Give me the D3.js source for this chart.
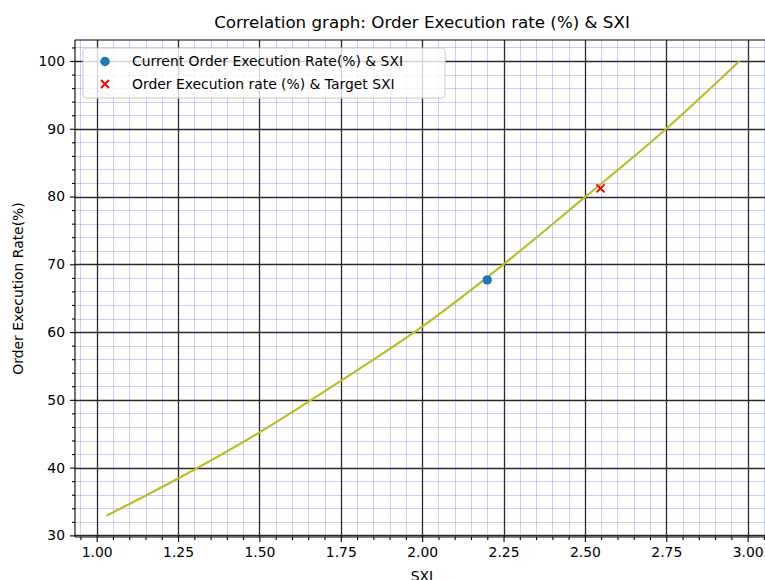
<!DOCTYPE html>
<html>
<head>
<meta charset="utf-8">
<script src="https://cdn.jsdelivr.net/npm/d3@7"></script>
<style>
  html, body { margin: 0; padding: 0; background: #fff; }
  svg { display: block; }
  text { font-family: "DejaVu Sans", sans-serif; fill: #000; }
</style>
</head>
<body>
<svg id="chart" width="765" height="580"></svg>
<script>
// ---- data ----
const sxi  = [1.03, 1.25, 1.50, 1.75, 2.00, 2.25, 2.50, 2.75, 2.975];
const rate = [32.9, 38.4, 45.2, 52.8, 60.8, 70.0, 79.9, 90.0, 100.0];
const currentPoint = { sxi: 2.20, rate: 67.7 };
const targetPoint  = { sxi: 2.548, rate: 81.2 };
const xTicks = [1.00, 1.25, 1.50, 1.75, 2.00, 2.25, 2.50, 2.75, 3.00];
const yTicks = [30, 40, 50, 60, 70, 80, 90, 100];
const xMinorTicks = d3.range(19, 62).map(i => i * 0.05).filter(v => Math.abs(v * 4 - Math.round(v * 4)) > 1e-6);
const yMinorTicks = d3.range(15, 52).map(i => i * 2).filter(v => v % 10 !== 0);
const title = "Correlation graph: Order Execution rate (%) & SXI";
const xLabel = "SXI";
const yLabel = "Order Execution Rate(%)";
const legendLabels = ["Current Order Execution Rate(%) & SXI", "Order Execution rate (%) & Target SXI"];

// ---- layout ----
const svg = d3.select("#chart");
const L = 75, T = 40, R = 769, B = 537;
const x = d3.scaleLinear().domain([0.9334, 3.0656]).range([L, R]);
const y = d3.scaleLinear().domain([29.76, 103.1]).range([B, T]);
const px = v => Math.round(v) + 0.5;   // crisp 1px grid lines

svg.append("defs").append("clipPath").attr("id", "clip")
  .append("rect").attr("x", L).attr("y", T).attr("width", R - L).attr("height", B - T);

const plot = svg.append("g").attr("clip-path", "url(#clip)");

// minor grid
plot.append("g").selectAll("line").data(xMinorTicks).join("line")
  .attr("x1", d => px(x(d))).attr("x2", d => px(x(d))).attr("y1", T).attr("y2", B)
  .attr("stroke", "rgba(0,0,255,0.2)").attr("stroke-width", 1);
plot.append("g").selectAll("line").data(yMinorTicks).join("line")
  .attr("y1", d => px(y(d))).attr("y2", d => px(y(d))).attr("x1", L).attr("x2", R)
  .attr("stroke", "rgba(0,0,255,0.2)").attr("stroke-width", 1);

// major grid
plot.append("g").selectAll("line").data(xTicks).join("line")
  .attr("x1", d => px(x(d))).attr("x2", d => px(x(d))).attr("y1", T).attr("y2", B)
  .attr("stroke", "#2a2a2a").attr("stroke-width", 1.3);
plot.append("g").selectAll("line").data(yTicks).join("line")
  .attr("y1", d => px(y(d))).attr("y2", d => px(y(d))).attr("x1", L).attr("x2", R)
  .attr("stroke", "#2a2a2a").attr("stroke-width", 1.3);

// curve
const pts = sxi.map((v, i) => [v, rate[i]]);
plot.append("path").datum(pts)
  .attr("d", d3.line().x(d => x(d[0])).y(d => y(d[1])).curve(d3.curveMonotoneX))
  .attr("fill", "none").attr("stroke", "#bcbd22").attr("stroke-width", 2.2);

// scatter points
plot.append("circle").attr("cx", x(currentPoint.sxi)).attr("cy", y(currentPoint.rate))
  .attr("r", 4.7).attr("fill", "#1f77b4");
function cross(g, cx, cy, s) {
  g.append("path")
    .attr("d", `M${cx - s},${cy - s}L${cx + s},${cy + s}M${cx - s},${cy + s}L${cx + s},${cy - s}`)
    .attr("stroke", "red").attr("stroke-width", 2).attr("fill", "none");
}
cross(plot, x(targetPoint.sxi), y(targetPoint.rate), 4);

// axes via d3
const xAxis = svg.append("g").attr("transform", `translate(0,${B})`)
  .call(d3.axisBottom(x).tickValues(xTicks).tickFormat(d3.format(".2f")).tickSize(5).tickPadding(5));
const xAxisMinor = svg.append("g").attr("transform", `translate(0,${B})`)
  .call(d3.axisBottom(x).tickValues(xMinorTicks).tickFormat("").tickSize(3));
const yAxis = svg.append("g").attr("transform", `translate(${L},0)`)
  .call(d3.axisLeft(y).tickValues(yTicks).tickFormat(d3.format("d")).tickSize(5).tickPadding(5));
const yAxisMinor = svg.append("g").attr("transform", `translate(${L},0)`)
  .call(d3.axisLeft(y).tickValues(yMinorTicks).tickFormat("").tickSize(3));

[xAxis, xAxisMinor, yAxis, yAxisMinor].forEach(g => {
  g.select(".domain").remove();
  g.selectAll(".tick line").attr("stroke", "#000").attr("stroke-width", 1.1);
  g.selectAll(".tick text").attr("font-size", "13.9px").attr("fill", "#000")
    .attr("font-family", "DejaVu Sans, sans-serif");
});

// spines
svg.append("path")
  .attr("d", `M${L},${T}L${R},${T}M${L},${T}L${L},${B}M${L},${B}L${R},${B}M${R},${T}L${R},${B}`)
  .attr("stroke", "#000").attr("stroke-width", 1.1).attr("fill", "none");

// title and labels
svg.append("text").attr("x", (L + R) / 2).attr("y", 28).attr("text-anchor", "middle")
  .attr("font-size", "16.7px").text(title);
svg.append("text").attr("x", (L + R) / 2).attr("y", 581).attr("text-anchor", "middle")
  .attr("font-size", "13.9px").text(xLabel);
svg.append("text").attr("transform", `translate(23,${(T + B) / 2}) rotate(-90)`)
  .attr("text-anchor", "middle").attr("font-size", "13.9px").text(yLabel);

// legend
const lg = svg.append("g");
lg.append("rect").attr("x", 83).attr("y", 48).attr("width", 362).attr("height", 50)
  .attr("rx", 3).attr("fill", "rgba(255,255,255,0.8)").attr("stroke", "#cccccc").attr("stroke-width", 1);
lg.append("circle").attr("cx", 105).attr("cy", 61.5).attr("r", 4.7).attr("fill", "#1f77b4");
cross(lg, 105, 84, 4);
lg.append("text").attr("x", 132).attr("y", 61.5).attr("dy", "0.35em").attr("font-size", "13.9px").text(legendLabels[0]);
lg.append("text").attr("x", 132).attr("y", 84).attr("dy", "0.35em").attr("font-size", "13.9px").text(legendLabels[1]);
</script>
</body>
</html>
